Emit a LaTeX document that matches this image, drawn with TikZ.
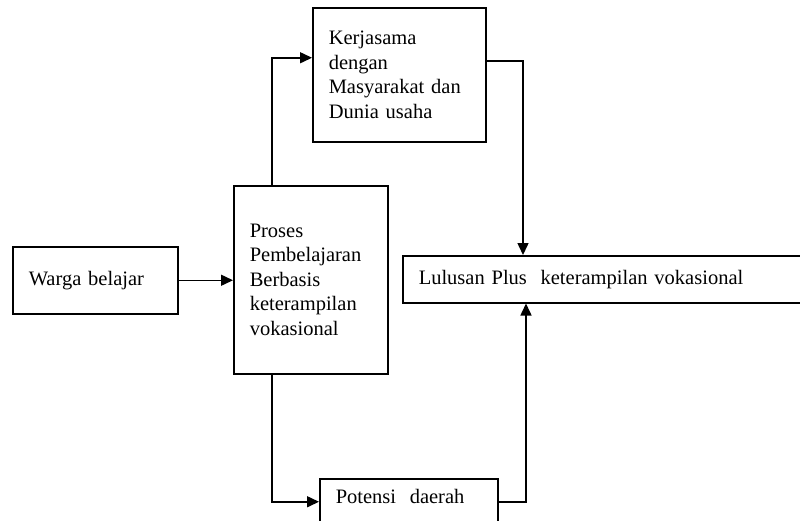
\documentclass[tikz,border=0pt]{standalone}
\usepackage{fontspec}
\setmainfont{Liberation Serif}
\usetikzlibrary{arrows.meta}

\begin{document}
\begin{tikzpicture}[
    x=1pt, y=-1pt,
    every node/.style={font=\fontsize{20.5}{24.5}\selectfont},
    box/.style={rectangle, draw, line width=1.5pt, inner xsep=16pt, inner ysep=0pt, align=left, anchor=north west},
    arrow/.style={line width=1.5pt, -{Triangle[length=12pt,width=11pt]}}
]
\clip (0,0) rectangle (800,520);

\node (warga) [box, minimum width=165pt, minimum height=67pt, text width=133pt] at (12,246) {Warga belajar};
\node (proses) [box, minimum width=154pt, minimum height=188pt, text width=122pt] at (233,185) {Proses\\Pembelajaran\\Berbasis\\keterampilan\\vokasional};
\node (kerja) [box, minimum width=173pt, minimum height=134pt, text width=141pt] at (312,7) {Kerjasama\\dengan\\Masyarakat dan\\Dunia usaha};
\node (lulus) [box, minimum width=402pt, minimum height=47pt, text width=370pt] at (402,255) {Lulusan Plus\ \ keterampilan vokasional};
\node (potensi) [box, minimum width=178pt, minimum height=46pt, text width=146pt, text depth=10pt] at (319,478) {Potensi\ \ daerah};

\draw[arrow] (warga.east) -- (warga.east -| proses.west);
\draw[arrow] ([xshift=39pt]proses.north west) |- ([yshift=17pt]kerja.west);
\draw[arrow] ([yshift=14pt]kerja.east) -| ([xshift=121pt]lulus.north west);
\draw[arrow] ([xshift=39pt]proses.south west) |- (potensi.west);
\draw[arrow] (potensi.east) -| ([xshift=124pt]lulus.south west);
\end{tikzpicture}
\end{document}
